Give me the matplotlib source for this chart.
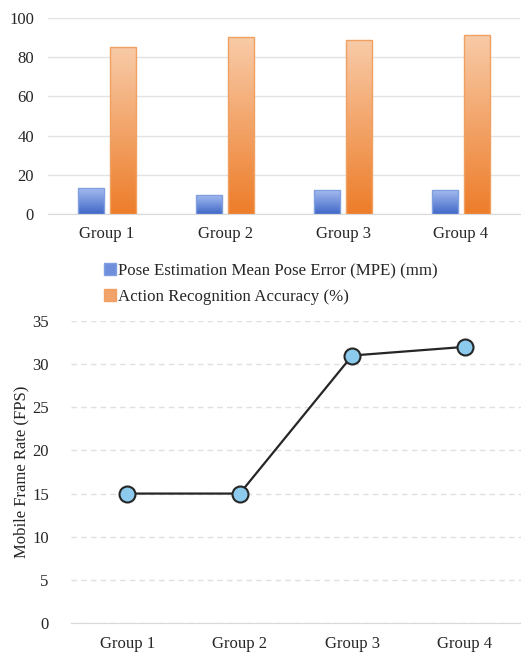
import numpy as np
import matplotlib
matplotlib.use("Agg")
import matplotlib.pyplot as plt
from matplotlib.colors import LinearSegmentedColormap
from matplotlib.patches import Patch

plt.rcParams['font.family'] = ['Liberation Serif', 'DejaVu Serif']

groups = ["Group 1", "Group 2", "Group 3", "Group 4"]
mpe = [13.3, 9.8, 12.3, 12.3]
accuracy = [85.3, 90.3, 88.9, 91.4]
fps = [15, 15, 31, 32]

blue_cmap = LinearSegmentedColormap.from_list("b", ["#4068c8", "#a9bff0"])
orange_cmap = LinearSegmentedColormap.from_list("o", ["#ed7d2a", "#f8cba8"])


def gradient_bars(ax, bars, cmap):
    # fill each bar with its own vertical gradient
    grad = np.linspace(0, 1, 256).reshape(-1, 1)
    for b in bars:
        x0, y0 = b.get_x(), b.get_y()
        w, h = b.get_width(), b.get_height()
        im = ax.imshow(grad, cmap=cmap, origin="lower", aspect="auto",
                       extent=(x0, x0 + w, y0, y0 + h), zorder=2)
        im.set_clip_path(b)


fig = plt.figure(figsize=(5.21, 6.56), dpi=100)

# top: bar chart
ax1 = fig.add_axes([48 / 521, 1 - 214 / 656, 472 / 521, 196 / 656])
x = np.arange(len(groups))
bw = 0.22
b1 = ax1.bar(x - 0.135, mpe, bw, facecolor="none", edgecolor="#7f9fe0", linewidth=1, zorder=3)
b2 = ax1.bar(x + 0.135, accuracy, bw, facecolor="none", edgecolor="#f0a060", linewidth=1, zorder=3)
gradient_bars(ax1, b1, blue_cmap)
gradient_bars(ax1, b2, orange_cmap)
ax1.set_xlim(-0.5, 3.5)
ax1.set_ylim(0, 100)
ax1.set_yticks(range(0, 101, 20))
ax1.set_xticks(x)
ax1.set_xticklabels(groups)
ax1.grid(axis="y", color="#e3e3e3", linewidth=1)
ax1.set_axisbelow(True)
for s in ["top", "right", "left"]:
    ax1.spines[s].set_visible(False)
ax1.spines["bottom"].set_color("#d9d9d9")
ax1.tick_params(length=0, labelsize=12, colors="#262626")
ax1.tick_params(axis="x", pad=9)
ax1.tick_params(axis="y", pad=10)

handles = [Patch(facecolor="#6f8fdc", edgecolor="#7f9fe0"),
           Patch(facecolor="#f2a36c", edgecolor="#f0a060")]
fig.legend(handles, ["Pose Estimation Mean Pose Error (MPE) (mm)",
                     "Action Recognition Accuracy (%)"],
           loc="upper left", bbox_to_anchor=(89 / 521, 1 - 248 / 656),
           frameon=False, fontsize=12.2, handlelength=0.7, handleheight=0.7,
           handletextpad=0.1, labelspacing=0.55, labelcolor="#262626")

# bottom: line chart
ax2 = fig.add_axes([71 / 521, 1 - 623 / 656, 450 / 521, 302 / 656])
ax2.plot(x, fps, color="#262626", linewidth=1.6, marker="o", markersize=11.5,
         markerfacecolor="#8ccbee", markeredgecolor="#262626", markeredgewidth=1.5, zorder=3)
ax2.set_xlim(-0.5, 3.5)
ax2.set_ylim(0, 35)
ax2.set_yticks(range(0, 36, 5))
ax2.set_xticks(x)
ax2.set_xticklabels(groups)
ax2.grid(axis="y", color="#e0e0e0", linewidth=1, linestyle=(0, (4, 3)))
ax2.set_axisbelow(True)
for s in ["top", "right", "left"]:
    ax2.spines[s].set_visible(False)
ax2.spines["bottom"].set_color("#d9d9d9")
ax2.tick_params(length=0, labelsize=12, colors="#262626")
ax2.tick_params(axis="x", pad=9)
ax2.tick_params(axis="y", pad=16)
ax2.set_ylabel("Mobile Frame Rate (FPS)", fontsize=12, color="#262626", labelpad=2)

fig.savefig("out.png", dpi=100)
